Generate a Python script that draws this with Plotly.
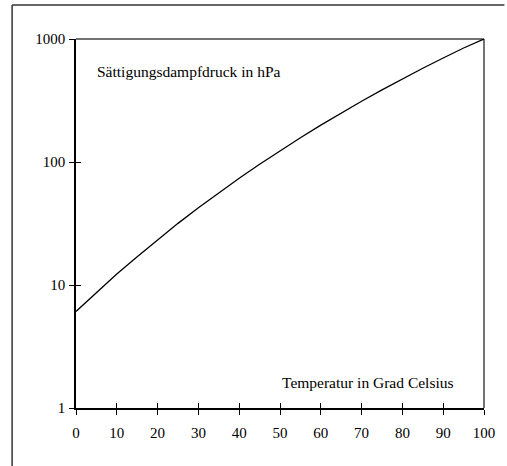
import plotly.graph_objects as go

temperature = [0, 5, 10, 15, 20, 25, 30, 35, 40, 45, 50, 55, 60, 65, 70, 75, 80, 85, 90, 95, 100]
pressure = [6.1, 8.7, 12.3, 17.0, 23.4, 31.7, 42.4, 56.2, 73.8, 95.9, 123.4, 157.4, 199.3,
            250.1, 311.7, 385.5, 473.6, 578.0, 701.1, 845.3, 1000.0]
x_ticks = [0, 10, 20, 30, 40, 50, 60, 70, 80, 90, 100]
y_ticks = [1, 10, 100, 1000]
y_label = "Sättigungsdampfdruck in hPa"
x_label = "Temperatur in Grad Celsius"

TICKFONT = dict(family="Liberation Serif, Times New Roman, serif", size=15, color="black")
ANNFONT = dict(family="Liberation Serif, Times New Roman, serif", size=15.5, color="black")

fig = go.Figure()
fig.add_trace(go.Scatter(x=temperature, y=pressure, mode="lines",
                         line=dict(color="black", width=1.3), showlegend=False,
                         xaxis="x", yaxis="y"))

# invisible trace to activate inside-tick axes
fig.add_trace(go.Scatter(x=[None], y=[None], xaxis="x2", yaxis="y2", showlegend=False))

fig.update_layout(
    width=507, height=466,
    margin=dict(l=76, r=19, t=39, b=58),
    paper_bgcolor="white", plot_bgcolor="white",
    font=TICKFONT,
    xaxis=dict(range=[0, 100], tickvals=x_ticks, ticktext=[str(v) for v in x_ticks],
               ticks="outside", ticklen=5, tickwidth=1.3, tickcolor="black",
               showline=True, linecolor="black", linewidth=1.5, showgrid=False,
               zeroline=False, tickfont=TICKFONT, ticklabelstandoff=5),
    yaxis=dict(type="log", range=[0, 3], tickvals=y_ticks, ticktext=[str(v) for v in y_ticks],
               ticks="outside", ticklen=5, tickwidth=1.3, tickcolor="black",
               showline=True, linecolor="black", linewidth=1.5, showgrid=False,
               zeroline=False, tickfont=TICKFONT, ticklabelstandoff=1),
    xaxis2=dict(range=[0, 100], tickvals=x_ticks, overlaying="x", anchor="y2",
                ticks="inside", ticklen=5, tickwidth=1.3, tickcolor="black",
                showticklabels=False, showline=False, showgrid=False, zeroline=False),
    yaxis2=dict(type="log", range=[0, 3], tickvals=y_ticks, overlaying="y", anchor="x2",
                ticks="inside", ticklen=5, tickwidth=1.3, tickcolor="black",
                showticklabels=False, showline=False, showgrid=False, zeroline=False),
    shapes=[
        # plot box: top and right edges
        dict(type="line", xref="paper", yref="paper", x0=0, x1=1, y0=1, y1=1,
             line=dict(color="#444444", width=1.5), layer="below"),
        dict(type="line", xref="paper", yref="paper", x0=1, x1=1, y0=0, y1=1,
             line=dict(color="#444444", width=1.5), layer="below"),
        # outer frame: top edge and left edge
        dict(type="line", xref="paper", yref="paper", x0=-0.1566, x1=1.05, y0=1.0921, y1=1.0921,
             line=dict(color="#333333", width=1.5), layer="above"),
        dict(type="line", xref="paper", yref="paper", x0=-0.1566, x1=-0.1566, y0=-0.2, y1=1.0921,
             line=dict(color="#333333", width=1.5), layer="above"),
    ],
    annotations=[
        dict(text=y_label, xref="paper", yref="paper", x=0.047, y=0.913,
             xanchor="left", yanchor="middle", showarrow=False, font=ANNFONT),
        dict(text=x_label, xref="paper", yref="paper", x=0.932, y=0.068,
             xanchor="right", yanchor="middle", showarrow=False, font=ANNFONT),
    ],
)

fig.write_html("out.html", config={"displayModeBar": False},
               post_script="document.body.style.margin='0';document.body.style.overflow='hidden';")
